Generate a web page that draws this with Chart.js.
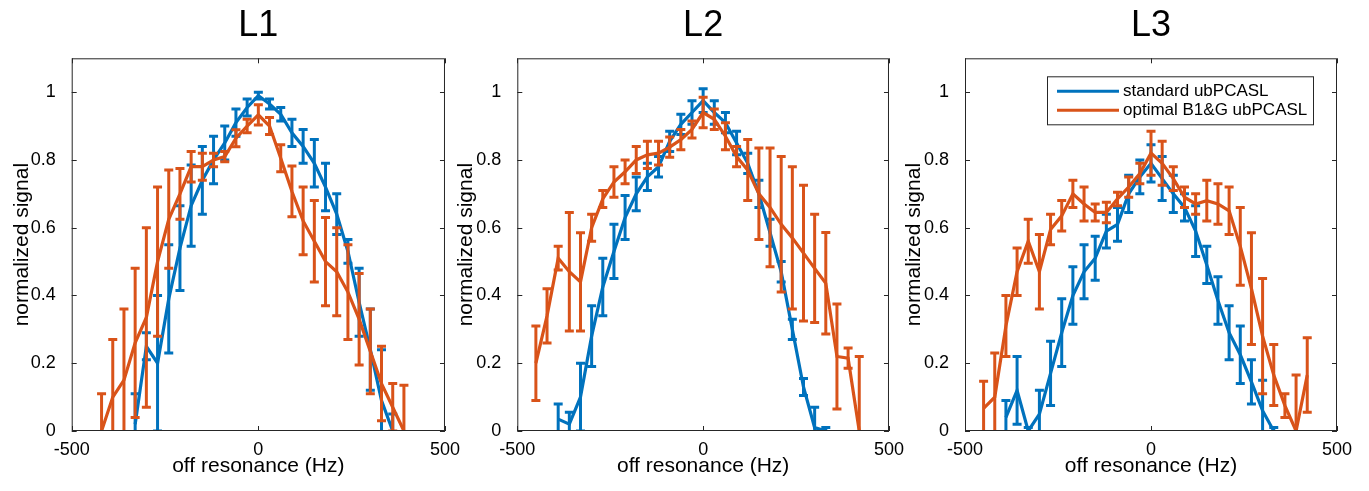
<!DOCTYPE html>
<html>
<head>
<meta charset="utf-8">
<script src="https://cdn.jsdelivr.net/npm/chart.js@4.4.0/dist/chart.umd.min.js"></script>
<style>
  body { margin: 0; background: #fff; }
  .panel { position: absolute; top: 0; height: 491px; }
</style>
</head>
<body>
<div class="panel" style="left:0;width:460px"><canvas id="c1"></canvas></div>
<div class="panel" style="left:444px;width:460px"><canvas id="c2"></canvas></div>
<div class="panel" style="left:892px;width:477px"><canvas id="c3"></canvas></div>
<script>
// tick labels and series names
const xTicks = [-500, 0, 500];
const yTicks = [0, 0.2, 0.4, 0.6, 0.8, 1];
const seriesNames = ['standard ubPCASL', 'optimal B1&G ubPCASL'];
const panelTitles = ['L1', 'L2', 'L3'];

// L1
const l1StdX = [-330, -300, -270, -240, -210, -180, -150, -120, -90, -60, -30, 0, 30, 60, 90, 120, 150, 180, 210, 240, 270, 300, 330, 360];
const l1StdY = [0.02, 0.25, 0.20, 0.39, 0.54, 0.665, 0.74, 0.80, 0.85, 0.91, 0.955, 0.99, 0.965, 0.935, 0.88, 0.84, 0.79, 0.72, 0.64, 0.53, 0.38, 0.24, 0.09, 0.0];
const l1StdErr = [0.09, 0.04, 0.2, 0.16, 0.125, 0.12, 0.1, 0.07, 0.05, 0.04, 0.025, 0.01, 0.015, 0.02, 0.04, 0.05, 0.07, 0.07, 0.06, 0.035, 0.1, 0.12, 0.15, 0.05];
const l1OptX = [-420, -390, -360, -330, -300, -270, -240, -210, -180, -150, -120, -90, -60, -30, 0, 30, 60, 90, 120, 150, 180, 210, 240, 270, 300, 330, 360, 390];
const l1OptY = [0.0, 0.1, 0.15, 0.26, 0.335, 0.5, 0.625, 0.70, 0.78, 0.78, 0.80, 0.81, 0.864, 0.90, 0.933, 0.90, 0.805, 0.707, 0.62, 0.56, 0.50, 0.47, 0.41, 0.33, 0.235, 0.14, 0.07, 0.0];
const l1OptErr = [0.11, 0.17, 0.21, 0.22, 0.265, 0.22, 0.145, 0.075, 0.045, 0.04, 0.02, 0.015, 0.025, 0.02, 0.03, 0.025, 0.04, 0.075, 0.1, 0.12, 0.13, 0.13, 0.14, 0.135, 0.125, 0.11, 0.07, 0.135];

// L2
const l2StdX = [-390, -360, -330, -300, -270, -240, -210, -180, -150, -120, -90, -60, -30, 0, 30, 60, 90, 120, 150, 180, 210, 240, 270, 300, 330];
const l2StdY = [0.035, 0.02, 0.10, 0.28, 0.425, 0.53, 0.63, 0.70, 0.75, 0.78, 0.855, 0.905, 0.94, 0.975, 0.94, 0.91, 0.85, 0.79, 0.70, 0.585, 0.47, 0.30, 0.13, 0.01, 0.0];
const l2StdErr = [0.045, 0.035, 0.1, 0.09, 0.085, 0.08, 0.065, 0.05, 0.04, 0.03, 0.03, 0.03, 0.035, 0.035, 0.035, 0.03, 0.035, 0.03, 0.04, 0.04, 0.03, 0.03, 0.025, 0.06, 0.01];
const l2OptX = [-450, -420, -390, -360, -330, -300, -270, -240, -210, -180, -150, -120, -90, -60, -30, 0, 30, 60, 90, 120, 150, 180, 210, 240, 270, 300, 330, 360, 390, 420];
const l2OptY = [0.2, 0.34, 0.51, 0.47, 0.44, 0.60, 0.685, 0.735, 0.765, 0.80, 0.815, 0.82, 0.838, 0.86, 0.89, 0.94, 0.92, 0.87, 0.81, 0.77, 0.70, 0.66, 0.61, 0.57, 0.525, 0.48, 0.436, 0.22, 0.215, 0.0];
const l2OptErr = [0.11, 0.08, 0.035, 0.175, 0.145, 0.04, 0.025, 0.045, 0.035, 0.04, 0.04, 0.035, 0.03, 0.03, 0.025, 0.045, 0.03, 0.04, 0.03, 0.09, 0.135, 0.175, 0.2, 0.21, 0.2, 0.16, 0.15, 0.155, 0.03, 0.22];

// L3
const l3StdX = [-390, -360, -330, -300, -270, -240, -210, -180, -150, -120, -90, -60, -30, 0, 30, 60, 90, 120, 150, 180, 210, 240, 270, 300, 330];
const l3StdY = [0.04, 0.12, 0.0, 0.05, 0.17, 0.29, 0.40, 0.47, 0.51, 0.59, 0.61, 0.70, 0.75, 0.79, 0.745, 0.70, 0.66, 0.59, 0.49, 0.385, 0.29, 0.225, 0.145, 0.06, 0.0];
const l3StdErr = [0.05, 0.1, 0.01, 0.07, 0.095, 0.1, 0.085, 0.08, 0.065, 0.05, 0.05, 0.055, 0.05, 0.055, 0.065, 0.055, 0.04, 0.075, 0.055, 0.07, 0.08, 0.085, 0.065, 0.09, 0.01];
const l3OptX = [-450, -420, -390, -360, -330, -300, -270, -240, -210, -180, -150, -120, -90, -60, -30, 0, 30, 60, 90, 120, 150, 180, 210, 240, 270, 300, 330, 360, 390, 420];
const l3OptY = [0.067, 0.1, 0.31, 0.47, 0.56, 0.47, 0.595, 0.635, 0.70, 0.67, 0.645, 0.645, 0.685, 0.72, 0.76, 0.82, 0.79, 0.745, 0.69, 0.67, 0.68, 0.67, 0.65, 0.545, 0.42, 0.28, 0.165, 0.075, 0.0, 0.165];
const l3OptErr = [0.08, 0.13, 0.09, 0.07, 0.065, 0.11, 0.045, 0.045, 0.04, 0.05, 0.025, 0.03, 0.02, 0.03, 0.03, 0.065, 0.065, 0.035, 0.03, 0.03, 0.06, 0.06, 0.07, 0.115, 0.165, 0.17, 0.09, 0.035, 0.165, 0.11];

const BLUE = '#0072BD';
const ORANGE = '#D95319';
const AXIS = '#262626';
const FONT = "'Liberation Sans', Arial, Helvetica, sans-serif";

const toPoints = (xs, ys) => xs.map((x, i) => ({ x: x, y: ys[i] }));

// vertical error bars with caps, drawn right after each line
const errorBars = {
  id: 'errorBars',
  afterDatasetDraw(chart, args) {
    const ds = chart.data.datasets[args.index];
    const xs = chart.scales.x;
    const ys = chart.scales.y;
    const a = chart.chartArea;
    const ctx = chart.ctx;
    ctx.save();
    ctx.beginPath();
    ctx.rect(a.left, a.top, a.right - a.left, a.bottom - a.top);
    ctx.clip();
    ctx.strokeStyle = ds.borderColor;
    ctx.lineWidth = 3;
    ds.data.forEach((p, i) => {
      const e = ds.errors[i];
      const px = xs.getPixelForValue(p.x);
      const top = ys.getPixelForValue(p.y + e);
      const bot = ys.getPixelForValue(p.y - e);
      ctx.beginPath();
      ctx.moveTo(px, top); ctx.lineTo(px, bot);
      ctx.moveTo(px - 4.5, top); ctx.lineTo(px + 4.5, top);
      ctx.moveTo(px - 4.5, bot); ctx.lineTo(px + 4.5, bot);
      ctx.stroke();
    });
    ctx.restore();
  },
};

// matlab style box with inward ticks, plus panel title and legend
const frame = {
  id: 'frame',
  afterDraw(chart, args, opts) {
    const a = chart.chartArea;
    const ctx = chart.ctx;
    const xs = chart.scales.x;
    const ys = chart.scales.y;
    ctx.save();
    ctx.strokeStyle = AXIS;
    ctx.lineWidth = 1;
    ctx.strokeRect(a.left + 0.5, a.top + 0.5, a.right - a.left - 1, a.bottom - a.top - 1);
    ctx.beginPath();
    yTicks.forEach((v) => {
      const py = Math.round(ys.getPixelForValue(v)) + 0.5;
      ctx.moveTo(a.left, py); ctx.lineTo(a.left + 5, py);
      ctx.moveTo(a.right, py); ctx.lineTo(a.right - 5, py);
    });
    xTicks.forEach((v) => {
      const px = Math.round(xs.getPixelForValue(v)) + 0.5;
      ctx.moveTo(px, a.bottom); ctx.lineTo(px, a.bottom - 5);
      ctx.moveTo(px, a.top); ctx.lineTo(px, a.top + 5);
    });
    ctx.stroke();

    ctx.fillStyle = '#000';
    ctx.font = '36px ' + FONT;
    ctx.textAlign = 'center';
    ctx.textBaseline = 'middle';
    ctx.fillText(opts.title, (a.left + a.right) / 2, 26);

    if (opts.legend) {
      const w = 266;
      const h = 48;
      const lx = a.right - 24 - w;
      const ly = a.top + 18;
      ctx.fillStyle = '#fff';
      ctx.fillRect(lx, ly, w, h);
      ctx.strokeStyle = AXIS;
      ctx.strokeRect(lx + 0.5, ly + 0.5, w, h);
      ctx.font = '17px ' + FONT;
      ctx.textAlign = 'left';
      chart.data.datasets.forEach((ds, i) => {
        const ry = ly + 15 + i * 19;
        ctx.strokeStyle = ds.borderColor;
        ctx.lineWidth = 3;
        ctx.beginPath();
        ctx.moveTo(lx + 10, ry); ctx.lineTo(lx + 72, ry);
        ctx.stroke();
        ctx.fillStyle = '#000';
        ctx.fillText(ds.label, lx + 76, ry);
      });
    }
    ctx.restore();
  },
};

function makePanel(id, title, plotLeft, padRight, std, opt, legend) {
  new Chart(document.getElementById(id).getContext('2d'), {
    type: 'line',
    data: {
      datasets: [{
        label: seriesNames[0],
        data: toPoints(std[0], std[1]),
        errors: std[2],
        borderColor: BLUE,
        borderWidth: 3.2,
        pointRadius: 0,
        tension: 0,
        order: 2,
      }, {
        label: seriesNames[1],
        data: toPoints(opt[0], opt[1]),
        errors: opt[2],
        borderColor: ORANGE,
        borderWidth: 3.2,
        pointRadius: 0,
        tension: 0,
        order: 1,
      }],
    },
    options: {
      responsive: true,
      maintainAspectRatio: false,
      animation: false,
      layout: { padding: { left: 0, right: padRight, top: 58.3, bottom: 0 } },
      plugins: {
        legend: { display: false },
        tooltip: { enabled: false },
        frame: { title: title, legend: legend },
      },
      scales: {
        x: {
          type: 'linear',
          min: -500,
          max: 500,
          afterBuildTicks: (s) => { s.ticks = xTicks.map((v) => ({ value: v })); },
          afterFit: (s) => { s.height = 60; },
          grid: { display: false },
          border: { display: false },
          ticks: { color: '#000', font: { family: FONT, size: 18 }, padding: 0, maxRotation: 0 },
          title: { display: true, text: 'off resonance (Hz)', color: '#000', font: { family: FONT, size: 21 }, padding: { top: 0, bottom: 12 } },
        },
        y: {
          min: 0,
          max: 1.1,
          afterBuildTicks: (s) => { s.ticks = yTicks.map((v) => ({ value: v })); },
          afterFit: (s) => { s.width = plotLeft; },
          grid: { display: false },
          border: { display: false },
          ticks: { color: '#000', font: { family: FONT, size: 18 }, padding: 8, callback: (v) => String(Math.round(v * 10) / 10) },
          title: { display: true, text: 'normalized signal', color: '#000', font: { family: FONT, size: 21 }, padding: { top: 10, bottom: 0 } },
        },
      },
    },
    plugins: [errorBars, frame],
  });
}

makePanel('c1', panelTitles[0], 71.7, 15, [l1StdX, l1StdY, l1StdErr], [l1OptX, l1OptY, l1OptErr], false);
makePanel('c2', panelTitles[1], 73.3, 13.3, [l2StdX, l2StdY, l2StdErr], [l2OptX, l2OptY, l2OptErr], false);
makePanel('c3', panelTitles[2], 73, 32, [l3StdX, l3StdY, l3StdErr], [l3OptX, l3OptY, l3OptErr], true);
</script>
</body>
</html>
